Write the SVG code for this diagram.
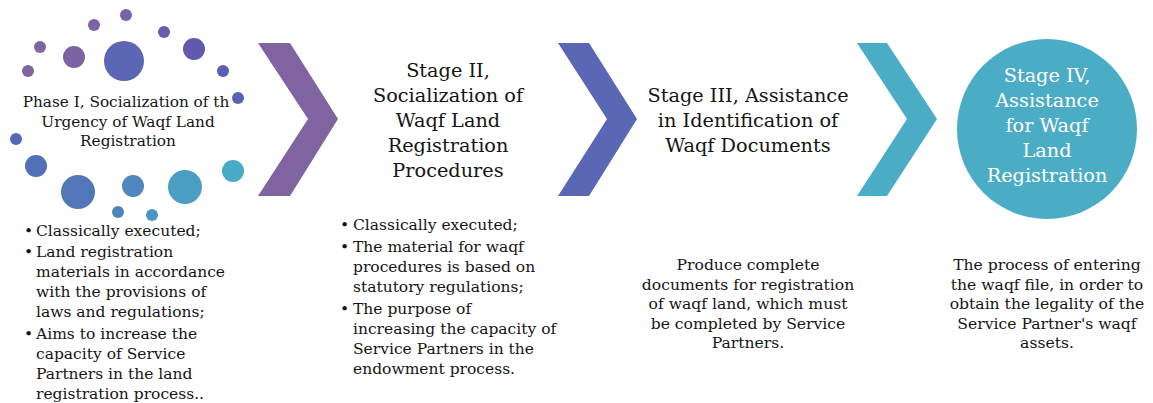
<svg xmlns="http://www.w3.org/2000/svg" width="1153" height="403" viewBox="0 0 1153 403">
<style>
text{font-family:"DejaVu Serif","Liberation Serif",serif;fill:#151515}
.t{font-size:19.3px;text-anchor:middle}
.tw{font-size:19.3px;text-anchor:middle;fill:#ffffff}
.p1{font-size:15.3px;text-anchor:middle}
.b{font-size:15.5px}
.c{font-size:15.6px;text-anchor:middle}
</style>
<rect width="1153" height="403" fill="#ffffff"/>
<g id="phase1">
<circle cx="126" cy="15" r="6" fill="#7a62a8"/>
<circle cx="94" cy="25" r="6" fill="#7c62a6"/>
<circle cx="164" cy="32" r="6" fill="#6a5cae"/>
<circle cx="40" cy="47" r="6" fill="#8064a2"/>
<circle cx="74" cy="57" r="11" fill="#7d63a4"/>
<circle cx="124" cy="61" r="20" fill="#5b66b4"/>
<circle cx="194" cy="49" r="11" fill="#605aae"/>
<circle cx="28" cy="71" r="6" fill="#8064a2"/>
<circle cx="223" cy="71" r="6" fill="#5b5eb2"/>
<circle cx="238" cy="98" r="6" fill="#5862b4"/>
<circle cx="16" cy="139" r="6" fill="#5568b6"/>
<circle cx="36" cy="166" r="11" fill="#5270b8"/>
<circle cx="78" cy="192" r="17" fill="#5177ba"/>
<circle cx="133" cy="186" r="11" fill="#4f87be"/>
<circle cx="185" cy="187" r="17" fill="#4a9dc3"/>
<circle cx="233" cy="171" r="11" fill="#4aabc8"/>
<circle cx="118" cy="212" r="6" fill="#4f84bd"/>
<circle cx="152" cy="215" r="6" fill="#4a95c3"/>
<text class="p1" x="126" y="107">Phase I, Socialization of th</text>
<text class="p1" x="128" y="127">Urgency of Waqf Land</text>
<text class="p1" x="128" y="146">Registration</text>
<text class="b" x="24" y="236">•</text><text class="b" x="36" y="236">Classically executed;</text>
<text class="b" x="24" y="257">•</text><text class="b" x="36" y="257">Land registration</text>
<text class="b" x="36" y="277">materials in accordance</text>
<text class="b" x="36" y="297">with the provisions of</text>
<text class="b" x="36" y="317">laws and regulations;</text>
<text class="b" x="24" y="339">•</text><text class="b" x="36" y="339">Aims to increase the</text>
<text class="b" x="36" y="359">capacity of Service</text>
<text class="b" x="36" y="379">Partners in the land</text>
<text class="b" x="36" y="399">registration process..</text>
</g>
<g id="connectors">
<polygon points="258,43 290,43 338,119 290,196 258,196 308,119" fill="#8064a2"/>
<polygon points="558,43 589,43 637,119 589,196 558,196 607,119" fill="#5a67b4"/>
<polygon points="857,43 887,43 937,119 887,196 857,196 907,119" fill="#4bacc6"/>
</g>
<g id="stage2">
<text class="t" x="448" y="77">Stage II,</text>
<text class="t" x="448" y="102">Socialization of</text>
<text class="t" x="448" y="127">Waqf Land</text>
<text class="t" x="448" y="152">Registration</text>
<text class="t" x="448" y="177">Procedures</text>
<text class="b" x="340" y="230">•</text><text class="b" x="353" y="230">Classically executed;</text>
<text class="b" x="340" y="252">•</text><text class="b" x="353" y="252">The material for waqf</text>
<text class="b" x="353" y="272">procedures is based on</text>
<text class="b" x="353" y="292">statutory regulations;</text>
<text class="b" x="340" y="314">•</text><text class="b" x="353" y="314">The purpose of</text>
<text class="b" x="353" y="334">increasing the capacity of</text>
<text class="b" x="353" y="354">Service Partners in the</text>
<text class="b" x="353" y="374">endowment process.</text>
</g>
<g id="stage3">
<text class="t" x="748" y="102">Stage III, Assistance</text>
<text class="t" x="748" y="127">in Identification of</text>
<text class="t" x="748" y="152">Waqf Documents</text>
<text class="c" x="748" y="270">Produce complete</text>
<text class="c" x="748" y="289.5">documents for registration</text>
<text class="c" x="748" y="309">of waqf land, which must</text>
<text class="c" x="748" y="328.5">be completed by Service</text>
<text class="c" x="748" y="348">Partners.</text>
</g>
<g id="stage4">
<circle cx="1047" cy="129" r="90" fill="#4bacc6"/>
<text class="tw" x="1047" y="82">Stage IV,</text>
<text class="tw" x="1047" y="107">Assistance</text>
<text class="tw" x="1047" y="132">for Waqf</text>
<text class="tw" x="1047" y="157">Land</text>
<text class="tw" x="1047" y="182">Registration</text>
<text class="c" x="1047" y="270">The process of entering</text>
<text class="c" x="1047" y="289.5">the waqf file, in order to</text>
<text class="c" x="1047" y="309">obtain the legality of the</text>
<text class="c" x="1047" y="328.5">Service Partner's waqf</text>
<text class="c" x="1047" y="348">assets.</text>
</g>
</svg>
